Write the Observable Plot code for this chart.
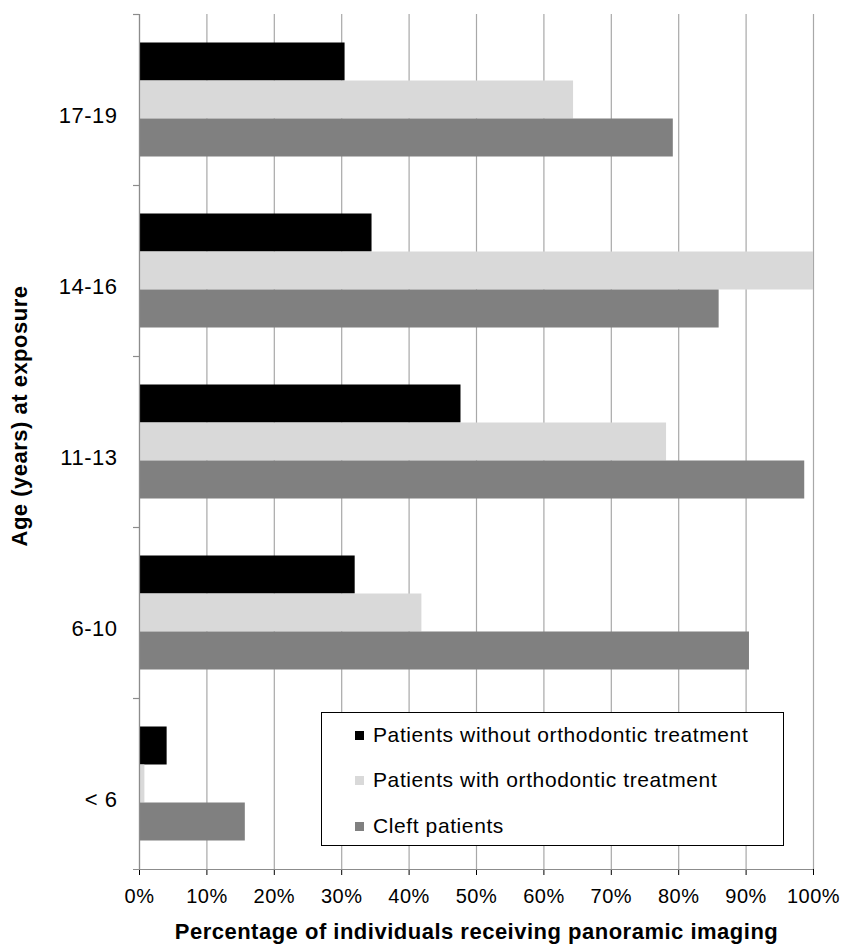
<!DOCTYPE html>
<html>
<head>
<meta charset="utf-8">
<script src="https://cdn.jsdelivr.net/npm/d3@7"></script>
<script src="https://cdn.jsdelivr.net/npm/@observablehq/plot@0.6"></script>
<style>
  body { margin: 0; background: #fff; }
  #wrap { position: relative; width: 847px; height: 944px; font-family: "Liberation Sans", Arial, sans-serif; }
  #wrap svg text { letter-spacing: 0.5px; }
  #legend { position: absolute; left: 321px; top: 712px; width: 463px; height: 134px; border: 1px solid #000; background: #fff; box-sizing: border-box; }
  .row { position: absolute; left: 0; height: 24px; display: flex; align-items: center; font-size: 21px; letter-spacing: 0.6px; color: #000; white-space: nowrap; }
  .sw { width: 9px; height: 9px; margin-left: 33px; margin-right: 9px; }
</style>
</head>
<body>
<div id="wrap"></div>
<script>
// ---- data ----
const ages = ["17-19", "14-16", "11-13", "6-10", "< 6"];
const seriesNames = [
  "Patients without orthodontic treatment",
  "Patients with orthodontic treatment",
  "Cleft patients"
];
const withoutOrtho = [30.5, 34.5, 47.7, 32.0, 4.1];
const withOrtho = [64.4, 100, 78.2, 41.9, 0.8];
const cleft = [79.2, 86.0, 98.7, 90.5, 15.7];
const xTicks = [0, 10, 20, 30, 40, 50, 60, 70, 80, 90, 100];
const xTitle = "Percentage of individuals receiving panoramic imaging";
const yTitle = "Age (years) at exposure";
const colors = ["#000000", "#d9d9d9", "#808080"];

// ---- layout ----
const W = 847, H = 944, mt = 14, mb = 75, ml = 139, mr = 34;
const band = (H - mt - mb) / ages.length;
const pad = 28.5;
const barH = (band - 2 * pad) / 3;

const seriesValues = [withoutOrtho, withOrtho, cleft];
const rows = [];
seriesValues.forEach((vals, k) => ages.forEach((a, i) => rows.push({age: a, series: seriesNames[k], k, value: vals[i]})));

const gridColor = "#a8a8a8";
const axisColor = "#8c8c8c";

const barMarks = seriesNames.map((s, k) =>
  Plot.barX(rows.filter(r => r.k === k), {
    x: "value", y: "age", fill: colors[k],
    insetTop: pad + k * barH, insetBottom: band - pad - (k + 1) * barH
  })
);

const chart = Plot.plot({
  width: W, height: H,
  marginTop: mt, marginBottom: mb, marginLeft: ml, marginRight: mr,
  style: {fontFamily: "Liberation Sans, Arial, sans-serif", fontSize: "20px", color: "#000", background: "#fff"},
  x: {domain: [0, 100], ticks: xTicks, tickFormat: d => d + "%", tickSize: 6, tickPadding: 13, label: null},
  y: {domain: ages, axis: null, padding: 0},
  marks: [
    Plot.ruleX(xTicks, {stroke: gridColor, strokeWidth: 1.2}),
    ...barMarks,
    Plot.ruleX([0], {stroke: axisColor, strokeWidth: 1.2}),
    Plot.ruleY(ages, {y: d => d, x1: 0, x2: 0, insetLeft: -6, dy: -band / 2, stroke: axisColor, strokeWidth: 1.2}),
    Plot.ruleY([ages[ages.length - 1]], {y: d => d, x1: 0, x2: 100, insetLeft: -6, dy: band / 2, stroke: axisColor, strokeWidth: 1.2}),
    Plot.text(ages, {y: d => d, text: d => d, frameAnchor: "left", textAnchor: "end", dx: -22, dy: 16, fontSize: 22, fill: "#000"}),
    Plot.text([xTitle], {text: d => d, frameAnchor: "bottom", textAnchor: "middle", dy: 69, fontWeight: "bold", fontSize: 22, fill: "#000"}),
    Plot.text([yTitle], {text: d => d, frameAnchor: "left", textAnchor: "middle", rotate: -90, dx: -120, dy: -26, fontWeight: "bold", fontSize: 22, fill: "#000"})
  ]
});
const wrap = document.getElementById("wrap");
wrap.appendChild(chart);

// legend overlay
const legend = document.createElement("div");
legend.id = "legend";
const centers = [22, 67, 113];
seriesNames.forEach((s, k) => {
  const row = document.createElement("div");
  row.className = "row";
  row.style.top = (centers[k] - 12) + "px";
  const sw = document.createElement("span");
  sw.className = "sw";
  sw.style.background = colors[k];
  const tx = document.createElement("span");
  tx.textContent = s;
  row.appendChild(sw); row.appendChild(tx);
  legend.appendChild(row);
});
wrap.appendChild(legend);
</script>
</body>
</html>
